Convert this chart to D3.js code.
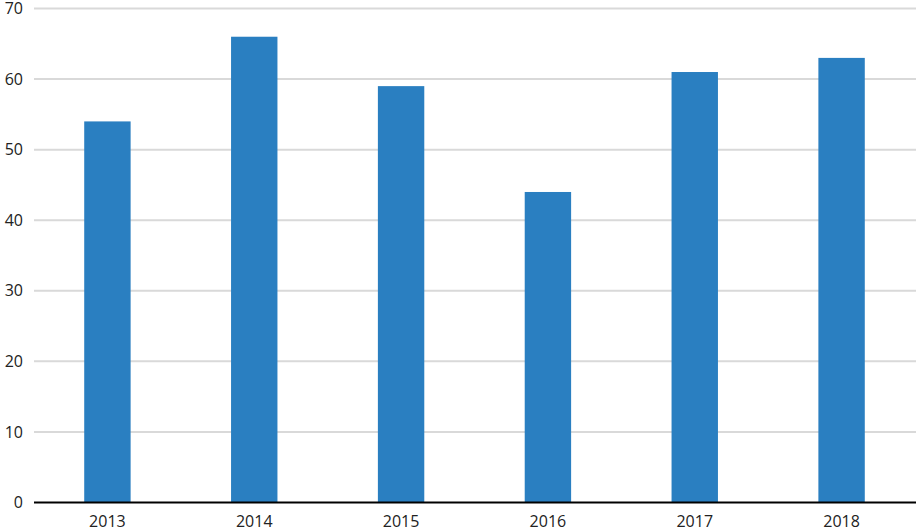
<!DOCTYPE html>
<html>
<head>
<meta charset="utf-8">
<script src="https://cdn.jsdelivr.net/npm/d3@7"></script>
<style>
  body { margin: 0; background: #fff; }
  text { font-family: "Open Sans", "Noto Sans", sans-serif; fill: #222; }
</style>
</head>
<body>
<div id="plot"></div>
<script>
  var years = ["2013", "2014", "2015", "2016", "2017", "2018"];
  var values = [54, 66, 59, 44, 61, 63];
  var yTicks = [0, 10, 20, 30, 40, 50, 60, 70];

  var margin = {top: 8.5, right: 4, bottom: 28.5, left: 34};
  var width = 920 - margin.left - margin.right,
      height = 531 - margin.top - margin.bottom;

  var svg = d3.select("#plot")
    .append("svg")
    .attr("width", 920)
    .attr("height", 531);

  var g = svg.append("g")
    .attr("transform", "translate(" + margin.left + "," + margin.top + ")");

  var x = d3.scaleBand().domain(years).range([0, width - 1])
    .paddingInner(0.684).paddingOuter(0.342);
  var y = d3.scaleLinear().domain([0, 70]).range([height, 0]);

  // gridlines
  g.selectAll(".grid")
    .data(yTicks.filter(function(d) { return d > 0; }))
    .enter().append("line")
      .attr("x1", 0).attr("x2", width)
      .attr("y1", function(d) { return y(d); })
      .attr("y2", function(d) { return y(d); })
      .style("stroke", "#d9d9d9")
      .style("stroke-width", 2);

  // y labels
  g.selectAll(".ylab")
    .data(yTicks)
    .enter().append("text")
      .attr("x", -11)
      .attr("y", function(d) { return y(d); })
      .attr("dy", "0.35em")
      .attr("text-anchor", "end")
      .style("font-size", "16px")
      .text(function(d) { return d; });

  // bars
  g.selectAll(".bar")
    .data(values)
    .enter().append("rect")
      .attr("x", function(d, i) { return x(years[i]); })
      .attr("width", x.bandwidth())
      .attr("y", function(d) { return y(d); })
      .attr("height", function(d) { return height - y(d); })
      .style("fill", "#2a7fc1");

  // x axis line
  g.append("line")
    .attr("x1", 0).attr("x2", width)
    .attr("y1", height).attr("y2", height)
    .style("stroke", "#000")
    .style("stroke-width", 2);

  // x labels
  g.selectAll(".xlab")
    .data(years)
    .enter().append("text")
      .attr("x", function(d) { return x(d) + x.bandwidth() / 2; })
      .attr("y", height + 19)
      .attr("dy", "0.35em")
      .attr("text-anchor", "middle")
      .style("font-size", "16px")
      .text(function(d) { return d; });
</script>
</body>
</html>
